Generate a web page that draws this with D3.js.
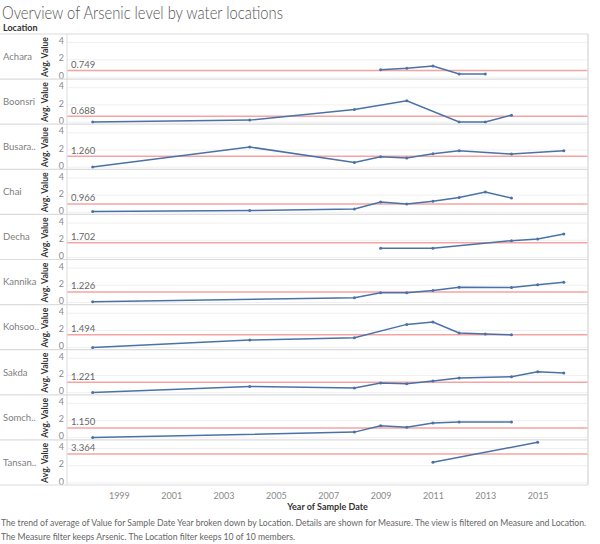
<!DOCTYPE html>
<html>
<head>
<meta charset="utf-8">
<script src="https://cdn.jsdelivr.net/npm/d3@7"></script>
<style>
  html, body { margin: 0; padding: 0; background: #fff; }
  svg { display: block; font-family: Lato, "Open Sans", sans-serif; }
</style>
</head>
<body>
<svg id="chart" width="600" height="544"></svg>
<script>
// ---- data ----
const locations = ["Achara", "Boonsri", "Busara..", "Chai", "Decha", "Kannika", "Kohsoo..", "Sakda", "Somch..", "Tansan.."];
const refValues = [0.749, 0.688, 1.260, 0.966, 1.702, 1.226, 1.494, 1.221, 1.150, 3.364];
const refLabels = ["0.749", "0.688", "1.260", "0.966", "1.702", "1.226", "1.494", "1.221", "1.150", "3.364"];
const seriesYears = [
  [2009, 2010, 2011, 2012, 2013],
  [1998, 2004, 2008, 2010, 2012, 2013, 2014],
  [1998, 2004, 2008, 2009, 2010, 2011, 2012, 2014, 2016],
  [1998, 2004, 2008, 2009, 2010, 2011, 2012, 2013, 2014],
  [2009, 2011, 2014, 2015, 2016],
  [1998, 2008, 2009, 2010, 2011, 2012, 2014, 2015, 2016],
  [1998, 2004, 2008, 2010, 2011, 2012, 2013, 2014],
  [1998, 2004, 2008, 2009, 2010, 2011, 2012, 2014, 2015, 2016],
  [1998, 2008, 2009, 2010, 2011, 2012, 2014],
  [2011, 2015]
];
const seriesValues = [
  [0.85, 1.01, 1.28, 0.35, 0.35],
  [0.02, 0.23, 1.47, 2.48, 0.02, 0.02, 0.81],
  [0.02, 2.35, 0.56, 1.22, 1.07, 1.57, 1.92, 1.53, 1.92],
  [0.08, 0.20, 0.38, 1.20, 0.97, 1.28, 1.71, 2.36, 1.66],
  [1.07, 1.07, 1.95, 2.15, 2.73],
  [0.08, 0.55, 1.13, 1.13, 1.40, 1.78, 1.74, 2.05, 2.36],
  [0.02, 0.87, 1.14, 2.70, 2.97, 1.69, 1.57, 1.49],
  [0.03, 0.73, 0.55, 1.13, 1.05, 1.36, 1.71, 1.86, 2.44, 2.29],
  [0.03, 0.66, 1.40, 1.24, 1.71, 1.83, 1.83],
  [2.40, 4.72]
];
const yTicks = [0, 2, 4];
const xTicks = [1999, 2001, 2003, 2005, 2007, 2009, 2011, 2013, 2015];
const titleText = "Overview of Arsenic level by water locations";
const footer1 = "The trend of average of Value for Sample Date Year broken down by Location.  Details are shown for Measure. The view is filtered on Measure and Location.";
const footer2 = "The Measure filter keeps Arsenic. The Location filter keeps 10 of 10 members.";

// ---- layout ----
const svg = d3.select("#chart");
const plotLeft = 67, plotRight = 588;
const rowTop0 = 34, rowH = 45.1;
const x = d3.scaleLinear().domain([1997, 2017]).range([66.5, 590]);
const lineColor = "#4a72a6";
const refColor = "#f7a3a3";

// title
svg.append("text").attr("x", 2).attr("y", 19)
  .attr("font-size", 18).attr("font-weight", 300).attr("fill", "#555")
  .attr("textLength", 281).attr("lengthAdjust", "spacingAndGlyphs")
  .text(titleText);
svg.append("text").attr("x", 3).attr("y", 31)
  .attr("font-size", 9).attr("font-weight", 700).attr("fill", "#333")
  .text("Location");

const line = d3.line().x(d => x(d[0]));

locations.forEach((loc, i) => {
  const top = rowTop0 + i * rowH;
  const y = d3.scaleLinear().domain([0, 5]).range([top + 43, top]);
  const g = svg.append("g");

  // gridlines
  g.selectAll("line.grid").data(yTicks).join("line")
    .attr("x1", plotLeft).attr("x2", plotRight)
    .attr("y1", d => y(d)).attr("y2", d => y(d))
    .attr("stroke", "#f0f0f0").attr("stroke-width", 1);

  // row separator
  g.append("line").attr("x1", 0).attr("x2", plotRight)
    .attr("y1", top).attr("y2", top)
    .attr("stroke", "#dcdcdc").attr("stroke-width", 1.2);

  // location label
  g.append("text").attr("x", 3).attr("y", top + rowH / 2)
    .attr("dy", "0.35em").attr("font-size", 9.5).attr("fill", "#808080")
    .text(loc);

  // axis title
  g.append("text")
    .attr("transform", `translate(48,${top + 23}) rotate(-90)`)
    .attr("text-anchor", "middle").attr("font-size", 9).attr("font-weight", 700).attr("fill", "#333")
    .attr("textLength", 40).attr("lengthAdjust", "spacingAndGlyphs")
    .text("Avg. Value");

  // y ticks
  g.selectAll("text.tick").data(yTicks).join("text")
    .attr("x", 64).attr("y", d => y(d) - 1.5).attr("dy", "0.35em")
    .attr("text-anchor", "end").attr("font-size", 9).attr("fill", "#8a8a8a")
    .text(d => d);

  // reference line
  g.append("line").attr("x1", plotLeft).attr("x2", plotRight)
    .attr("y1", y(refValues[i])).attr("y2", y(refValues[i]))
    .attr("stroke", refColor).attr("stroke-width", 1.5);
  g.append("text").attr("x", 71).attr("y", y(refValues[i]) - 2.5)
    .attr("font-size", 9.5).attr("fill", "#666")
    .text(refLabels[i]);

  // series
  const pts = seriesYears[i].map((yr, k) => [yr, seriesValues[i][k]]);
  g.append("path").datum(pts)
    .attr("d", line.y(d => y(d[1])))
    .attr("fill", "none").attr("stroke", lineColor).attr("stroke-width", 1.5);
  g.selectAll("circle").data(pts).join("circle")
    .attr("cx", d => x(d[0])).attr("cy", d => y(d[1])).attr("r", 1.5)
    .attr("fill", lineColor);
});

const plotBottom = rowTop0 + locations.length * rowH;
// frame lines
svg.append("line").attr("x1", 0).attr("x2", plotRight).attr("y1", plotBottom).attr("y2", plotBottom)
  .attr("stroke", "#dcdcdc").attr("stroke-width", 1.2);
svg.append("line").attr("x1", plotLeft).attr("x2", plotLeft).attr("y1", rowTop0).attr("y2", plotBottom)
  .attr("stroke", "#dcdcdc");
svg.append("line").attr("x1", plotRight).attr("x2", plotRight).attr("y1", rowTop0).attr("y2", plotBottom)
  .attr("stroke", "#dcdcdc").attr("stroke-width", 1.5);

// x axis
const xAxis = d3.axisBottom(x).tickValues(xTicks).tickFormat(d3.format("d")).tickSize(0).tickPadding(8);
const ax = svg.append("g").attr("transform", `translate(0,${plotBottom})`).call(xAxis);
ax.select(".domain").remove();
ax.selectAll("text").attr("font-size", 9).attr("fill", "#8a8a8a").attr("font-family", "Lato, 'Open Sans', sans-serif");

svg.append("text").attr("x", (plotLeft + plotRight) / 2).attr("y", 510)
  .attr("text-anchor", "middle").attr("font-size", 9).attr("font-weight", 700).attr("fill", "#333")
  .text("Year of Sample Date");

// footer
svg.append("text").attr("x", 1).attr("y", 526)
  .attr("font-size", 8.8).attr("fill", "#666")
  .attr("textLength", 585).attr("lengthAdjust", "spacingAndGlyphs")
  .text(footer1);
svg.append("text").attr("x", 1).attr("y", 540)
  .attr("font-size", 8.8).attr("fill", "#666")
  .attr("textLength", 294).attr("lengthAdjust", "spacingAndGlyphs")
  .text(footer2);
</script>
</body>
</html>
